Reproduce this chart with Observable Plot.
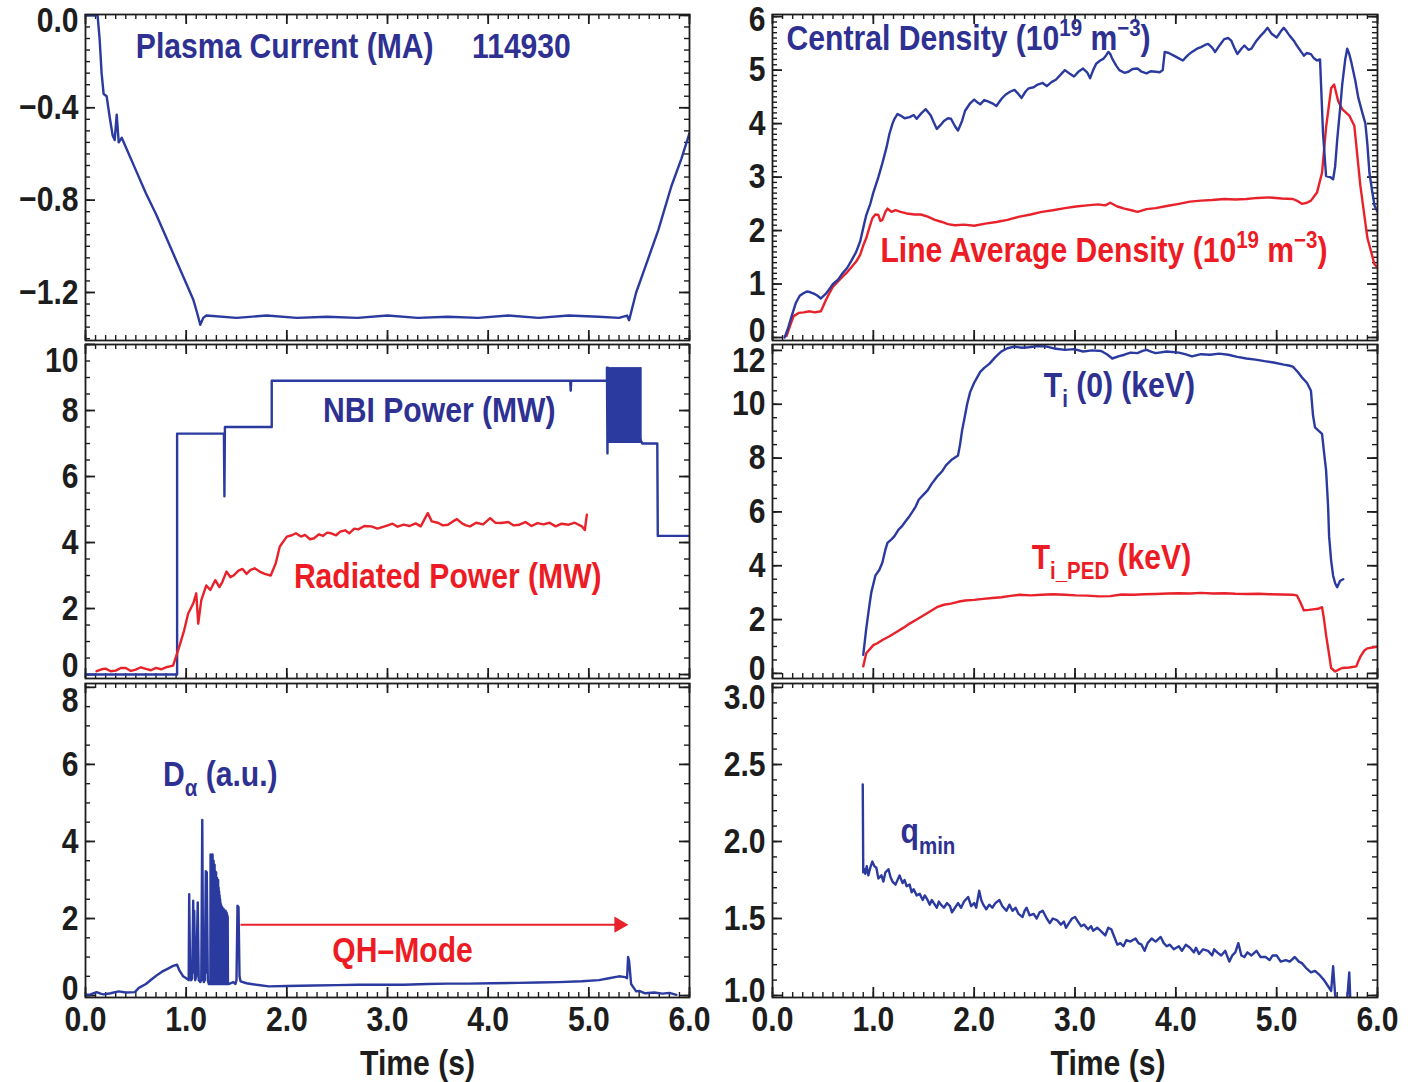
<!DOCTYPE html>
<html><head><meta charset="utf-8">
<script src="https://cdn.jsdelivr.net/npm/d3@7"></script>
<script src="https://cdn.jsdelivr.net/npm/@observablehq/plot@0.6"></script>
<style>
html,body{margin:0;padding:0;background:#fff;}
#fig{position:relative;width:1412px;height:1082px;overflow:hidden;background:#fff;}
#fig svg{position:absolute;overflow:visible;background:transparent;}
</style></head><body><div id="fig"></div>
<script>
// ---------------- DATA (time in s, value) ----------------
const plasmaCurrent = [[0.02,0.0],[0.12,0.0],[0.14,-0.1],[0.16,-0.25],[0.18,-0.34],[0.21,-0.35],[0.24,-0.44],[0.27,-0.52],[0.29,-0.54],[0.31,-0.43],[0.33,-0.55],[0.36,-0.53],[0.40,-0.57],[0.5,-0.67],[0.6,-0.77],[0.7,-0.86],[0.8,-0.96],[0.9,-1.06],[1.0,-1.16],[1.07,-1.23],[1.11,-1.29],[1.14,-1.34],[1.17,-1.31],[1.2,-1.30],[1.5,-1.31],[1.8,-1.30],[2.1,-1.31],[2.4,-1.305],[2.7,-1.31],[3.0,-1.30],[3.3,-1.31],[3.6,-1.305],[3.9,-1.31],[4.2,-1.30],[4.5,-1.31],[4.8,-1.30],[5.1,-1.305],[5.3,-1.31],[5.38,-1.30],[5.40,-1.32],[5.47,-1.20],[5.56,-1.09],[5.69,-0.93],[5.82,-0.74],[5.92,-0.62],[6.0,-0.51]];

const nbiPower = [[0.0,0.0],[0.91,0.0],[0.91,7.3],[1.375,7.3],[1.38,5.4],[1.385,7.5],[1.85,7.5],[1.85,8.9],[4.815,8.9],[4.82,8.6],[4.825,8.9],[5.18,8.9],[5.18,9.3],[5.185,6.7],[5.19,9.3],[5.53,7.0],[5.68,7.0],[5.685,4.2],[6.0,4.2]];
const nbiModulation = [{start:5.19, end:5.53, low:7.0, high:9.3}];

const radiatedPower = [[0.11,0.1],[0.16,0.16],[0.2,0.18],[0.25,0.1],[0.3,0.12],[0.35,0.2],[0.4,0.2],[0.45,0.11],[0.5,0.15],[0.55,0.22],[0.6,0.17],[0.65,0.13],[0.7,0.2],[0.75,0.16],[0.8,0.22],[0.87,0.27],[0.93,0.83],[0.98,1.34],[1.02,1.85],[1.07,2.15],[1.10,2.46],[1.12,1.54],[1.15,2.25],[1.20,2.7],[1.24,2.56],[1.29,2.86],[1.33,2.65],[1.36,2.81],[1.40,3.12],[1.44,2.95],[1.47,3.0],[1.52,3.15],[1.56,3.2],[1.60,3.05],[1.64,3.17],[1.68,3.22],[1.73,3.12],[1.78,3.05],[1.84,3.0],[1.89,3.37],[1.93,3.88],[2.0,4.18],[2.05,4.22],[2.09,4.28],[2.14,4.18],[2.18,4.23],[2.23,4.1],[2.27,4.13],[2.32,4.25],[2.36,4.2],[2.40,4.3],[2.44,4.28],[2.49,4.22],[2.53,4.33],[2.58,4.37],[2.62,4.28],[2.67,4.42],[2.71,4.4],[2.77,4.5],[2.84,4.49],[2.90,4.42],[2.98,4.5],[3.05,4.57],[3.10,4.48],[3.16,4.54],[3.22,4.5],[3.28,4.58],[3.33,4.49],[3.40,4.89],[3.44,4.64],[3.50,4.6],[3.55,4.52],[3.6,4.54],[3.65,4.64],[3.69,4.71],[3.74,4.58],[3.78,4.52],[3.82,4.49],[3.88,4.6],[3.95,4.55],[4.02,4.74],[4.07,4.6],[4.13,4.59],[4.2,4.62],[4.25,4.52],[4.31,4.54],[4.37,4.62],[4.43,4.5],[4.49,4.59],[4.55,4.55],[4.61,4.6],[4.67,4.49],[4.73,4.57],[4.8,4.54],[4.86,4.6],[4.93,4.49],[4.96,4.38],[4.98,4.84]];

const dAlpha = [[0.0,0.02],[0.05,0.03],[0.11,0.09],[0.15,0.05],[0.18,0.03],[0.25,0.06],[0.33,0.11],[0.40,0.08],[0.49,0.09],[0.53,0.2],[0.60,0.3],[0.67,0.45],[0.72,0.55],[0.76,0.62],[0.82,0.7],[0.87,0.77],[0.91,0.8],[0.93,0.67],[0.97,0.5],[1.0,0.45],
[1.025,0.4],[1.03,2.63],[1.04,0.5],[1.05,0.4],[1.06,0.45],[1.07,2.46],[1.075,0.6],[1.08,2.2],[1.09,0.4],[1.10,0.5],[1.115,2.42],[1.125,0.4],[1.14,0.35],[1.15,0.4],[1.16,4.56],[1.168,0.5],[1.175,0.35],[1.185,0.4],[1.195,3.23],[1.20,0.6],[1.205,3.2],[1.215,0.4],[1.225,0.3],[1.235,0.35],
[1.240,0.3],[1.2425,3.66],[1.245,0.4],[1.2475,3.55],[1.250,0.3],[1.2525,3.6],[1.255,0.35],[1.2575,3.45],[1.260,0.3],[1.2625,3.66],[1.265,0.3],[1.2675,3.4],[1.270,0.35],[1.2725,3.5],[1.275,0.3],[1.2775,3.3],[1.280,0.3],[1.2825,3.4],[1.285,0.3],[1.2875,3.23],[1.290,0.3],[1.2925,3.1],[1.295,0.35],[1.2975,3.2],[1.300,0.3],[1.3025,3.0],[1.305,0.3],[1.3075,3.05],[1.310,0.3],[1.3125,2.9],[1.315,0.35],[1.3175,3.0],[1.320,0.3],[1.3225,2.8],[1.325,0.3],[1.3275,2.7],[1.330,0.3],[1.3325,2.6],[1.335,0.35],[1.3375,2.5],[1.340,0.3],[1.3425,2.4],[1.345,0.3],[1.3475,2.35],[1.350,0.3],[1.3525,2.29],[1.355,0.35],[1.3575,2.3],[1.360,0.3],[1.3625,2.25],[1.365,0.3],[1.3675,2.2],[1.370,0.3],[1.3725,2.25],[1.375,0.35],[1.3775,2.2],[1.380,0.3],[1.3825,2.2],[1.385,0.3],[1.3875,2.15],[1.390,0.3],[1.3925,2.2],[1.395,0.35],[1.3975,2.1],[1.400,0.3],[1.4025,2.15],[1.405,0.3],[1.4075,2.1],[1.410,0.3],[1.4125,2.05],[1.415,0.3],[1.42,0.3],[1.47,0.35],[1.49,0.3],[1.50,0.4],[1.51,2.33],[1.52,2.3],[1.53,0.5],[1.54,0.37],[1.6,0.32],[1.7,0.28],[1.82,0.24],[2.0,0.25],[2.27,0.26],[2.5,0.27],[2.71,0.28],[3.0,0.28],[3.16,0.28],[3.4,0.3],[3.6,0.31],[3.8,0.31],[4.04,0.32],[4.3,0.33],[4.49,0.34],[4.7,0.35],[4.93,0.37],[5.1,0.4],[5.2,0.45],[5.3,0.5],[5.36,0.48],[5.38,0.45],[5.39,1.0],[5.40,0.9],[5.42,0.3],[5.47,0.11],[5.5,0.12],[5.56,0.06],[5.65,0.08],[5.73,0.05],[5.8,0.07],[5.87,0.02]];
const qhMode = [{start:1.54, end:5.30, level:1.84}];

const centralDensity = [[0.12,0],[0.15,0.15],[0.19,0.4],[0.23,0.64],[0.27,0.78],[0.30,0.82],[0.34,0.86],[0.37,0.85],[0.41,0.82],[0.44,0.79],[0.48,0.73],[0.53,0.82],[0.57,0.92],[0.60,1.0],[0.65,1.08],[0.69,1.19],[0.74,1.3],[0.78,1.43],[0.83,1.6],[0.87,1.8],[0.90,2.05],[0.93,2.29],[0.97,2.5],[1.00,2.71],[1.05,3.0],[1.09,3.26],[1.13,3.55],[1.16,3.81],[1.19,4.0],[1.21,4.09],[1.24,4.18],[1.27,4.15],[1.31,4.1],[1.36,4.12],[1.40,4.16],[1.43,4.09],[1.48,4.2],[1.52,4.27],[1.57,4.15],[1.60,4.02],[1.63,3.9],[1.67,3.98],[1.70,4.05],[1.74,4.1],[1.77,4.09],[1.81,3.95],[1.84,3.87],[1.88,4.05],[1.91,4.24],[1.96,4.38],[2.00,4.45],[2.03,4.4],[2.06,4.36],[2.10,4.44],[2.13,4.42],[2.18,4.38],[2.22,4.33],[2.27,4.46],[2.31,4.54],[2.36,4.6],[2.40,4.63],[2.44,4.55],[2.47,4.48],[2.51,4.6],[2.54,4.66],[2.59,4.68],[2.63,4.73],[2.68,4.76],[2.72,4.7],[2.77,4.78],[2.81,4.82],[2.86,4.92],[2.90,5.0],[2.95,4.93],[2.99,4.88],[3.04,4.98],[3.08,5.03],[3.12,4.96],[3.15,4.85],[3.18,5.0],[3.21,5.12],[3.25,5.18],[3.28,5.21],[3.31,5.28],[3.33,5.34],[3.35,5.3],[3.37,5.21],[3.41,5.08],[3.44,5.0],[3.49,4.95],[3.53,4.97],[3.57,5.02],[3.62,5.03],[3.66,4.97],[3.71,4.94],[3.75,4.98],[3.80,4.97],[3.84,4.96],[3.87,5.0],[3.89,5.34],[3.93,5.32],[3.98,5.27],[4.03,5.22],[4.07,5.18],[4.12,5.28],[4.16,5.34],[4.21,5.4],[4.25,5.43],[4.29,5.47],[4.32,5.49],[4.36,5.42],[4.39,5.34],[4.44,5.48],[4.48,5.58],[4.52,5.6],[4.55,5.55],[4.58,5.42],[4.61,5.3],[4.65,5.4],[4.68,5.46],[4.72,5.38],[4.75,5.4],[4.80,5.55],[4.84,5.64],[4.88,5.72],[4.91,5.79],[4.95,5.68],[5.00,5.61],[5.04,5.72],[5.07,5.79],[5.10,5.72],[5.13,5.64],[5.17,5.55],[5.20,5.46],[5.24,5.35],[5.27,5.27],[5.30,5.32],[5.34,5.3],[5.37,5.22],[5.40,5.18],[5.43,5.2],[5.46,3.81],[5.49,3.02],[5.53,3.0],[5.56,2.96],[5.58,3.2],[5.60,3.69],[5.63,4.3],[5.65,4.73],[5.68,5.2],[5.70,5.4],[5.72,5.3],[5.74,5.15],[5.78,4.8],[5.81,4.48],[5.85,4.2],[5.88,4.0],[5.90,3.6],[5.92,3.08],[5.95,2.7],[5.97,2.47],[6.0,2.35]];

const lineAvgDensity = [[0.14,0.03],[0.18,0.25],[0.21,0.4],[0.26,0.46],[0.31,0.47],[0.37,0.49],[0.42,0.47],[0.48,0.49],[0.53,0.7],[0.57,0.85],[0.60,0.95],[0.65,1.05],[0.69,1.13],[0.74,1.22],[0.78,1.31],[0.83,1.42],[0.87,1.55],[0.90,1.72],[0.93,1.86],[0.96,2.05],[0.99,2.23],[1.02,2.3],[1.05,2.29],[1.07,2.18],[1.09,2.2],[1.12,2.35],[1.14,2.41],[1.16,2.38],[1.18,2.35],[1.22,2.38],[1.27,2.35],[1.33,2.32],[1.41,2.3],[1.47,2.3],[1.54,2.26],[1.61,2.2],[1.68,2.16],[1.74,2.12],[1.81,2.1],[1.9,2.11],[2.0,2.09],[2.11,2.13],[2.22,2.16],[2.33,2.2],[2.45,2.26],[2.56,2.3],[2.67,2.35],[2.78,2.38],[2.90,2.42],[3.01,2.45],[3.12,2.47],[3.23,2.49],[3.30,2.47],[3.35,2.52],[3.42,2.45],[3.49,2.41],[3.56,2.38],[3.62,2.35],[3.71,2.4],[3.80,2.42],[3.91,2.46],[4.03,2.5],[4.14,2.54],[4.25,2.56],[4.36,2.57],[4.48,2.59],[4.59,2.58],[4.70,2.59],[4.81,2.61],[4.93,2.62],[5.05,2.6],[5.16,2.59],[5.21,2.55],[5.25,2.5],[5.30,2.52],[5.34,2.56],[5.40,2.71],[5.45,3.08],[5.49,3.93],[5.54,4.66],[5.57,4.73],[5.61,4.42],[5.65,4.27],[5.72,4.15],[5.77,3.96],[5.83,2.84],[5.90,1.86],[5.97,1.37],[6.0,1.31]];

const tiCentral = [[0.90,0.69],[0.93,1.67],[0.96,2.5],[0.98,3.01],[1.02,3.63],[1.06,3.85],[1.09,4.12],[1.12,4.6],[1.14,4.85],[1.18,4.98],[1.21,5.1],[1.25,5.34],[1.28,5.45],[1.32,5.65],[1.36,5.85],[1.39,6.02],[1.42,6.2],[1.45,6.45],[1.50,6.65],[1.54,6.81],[1.58,7.05],[1.63,7.3],[1.68,7.5],[1.72,7.73],[1.78,7.95],[1.84,8.1],[1.86,8.5],[1.88,9.02],[1.91,9.6],[1.93,10.0],[1.96,10.45],[2.0,10.8],[2.03,11.0],[2.06,11.2],[2.10,11.35],[2.15,11.5],[2.21,11.75],[2.27,11.96],[2.33,12.08],[2.40,12.14],[2.47,12.1],[2.54,12.12],[2.63,12.16],[2.72,12.14],[2.81,12.06],[2.90,12.02],[2.99,12.05],[3.08,11.96],[3.17,12.0],[3.26,11.98],[3.32,11.85],[3.37,11.7],[3.43,11.78],[3.49,11.84],[3.55,11.92],[3.62,11.9],[3.67,11.98],[3.71,12.02],[3.76,11.95],[3.80,11.9],[3.91,11.96],[4.03,11.92],[4.10,11.85],[4.16,11.78],[4.25,11.86],[4.34,11.84],[4.43,11.88],[4.52,11.84],[4.61,11.76],[4.70,11.7],[4.79,11.66],[4.88,11.6],[4.97,11.55],[5.07,11.47],[5.12,11.44],[5.16,11.4],[5.21,11.2],[5.25,11.0],[5.30,10.8],[5.34,10.5],[5.36,9.6],[5.38,9.14],[5.42,9.0],[5.45,8.9],[5.47,8.2],[5.49,7.55],[5.51,6.2],[5.52,5.1],[5.54,4.2],[5.56,3.63],[5.58,3.35],[5.60,3.2],[5.63,3.44],[5.66,3.5]];

const tiPedestal = [[0.90,0.26],[0.93,0.75],[0.97,0.92],[1.0,1.05],[1.04,1.12],[1.09,1.24],[1.16,1.38],[1.23,1.54],[1.30,1.7],[1.36,1.85],[1.43,2.0],[1.50,2.16],[1.57,2.32],[1.63,2.46],[1.70,2.55],[1.77,2.59],[1.84,2.66],[1.91,2.71],[2.0,2.73],[2.09,2.77],[2.18,2.8],[2.27,2.83],[2.36,2.88],[2.45,2.92],[2.56,2.9],[2.67,2.92],[2.78,2.94],[2.90,2.92],[3.01,2.9],[3.12,2.89],[3.24,2.86],[3.35,2.87],[3.46,2.93],[3.58,2.92],[3.69,2.94],[3.80,2.95],[3.92,2.97],[4.03,2.98],[4.14,2.97],[4.25,2.99],[4.37,2.97],[4.48,2.98],[4.59,2.96],[4.70,2.95],[4.82,2.96],[4.93,2.94],[5.05,2.93],[5.16,2.92],[5.20,2.9],[5.24,2.6],[5.27,2.34],[5.32,2.36],[5.36,2.38],[5.41,2.4],[5.45,2.46],[5.47,2.0],[5.49,1.42],[5.52,0.7],[5.54,0.2],[5.58,0.07],[5.62,0.15],[5.65,0.2],[5.72,0.22],[5.79,0.26],[5.81,0.45],[5.83,0.62],[5.87,0.85],[5.90,0.93],[5.95,0.96],[6.0,0.99]];

const qMin = [[0.895,2.37],[0.90,1.8],[0.91,1.82],[0.92,1.79],[0.935,1.84],[0.95,1.78],[0.97,1.83],[0.99,1.87],[1.01,1.84],[1.03,1.83],[1.05,1.76],[1.08,1.78],[1.10,1.74],[1.12,1.8],[1.15,1.82],[1.17,1.77],[1.19,1.74],[1.22,1.72],[1.26,1.78],[1.29,1.73],[1.31,1.75],[1.33,1.71],[1.36,1.72],[1.38,1.67],[1.40,1.69],[1.43,1.65],[1.46,1.66],[1.49,1.62],[1.51,1.65],[1.53,1.63],[1.56,1.59],[1.58,1.62],[1.60,1.6],[1.63,1.57],[1.65,1.61],[1.67,1.59],[1.70,1.57],[1.73,1.6],[1.76,1.58],[1.78,1.54],[1.80,1.56],[1.84,1.6],[1.87,1.57],[1.90,1.61],[1.94,1.64],[1.97,1.58],[2.0,1.6],[2.02,1.57],[2.05,1.68],[2.07,1.62],[2.09,1.59],[2.12,1.56],[2.15,1.59],[2.18,1.57],[2.21,1.6],[2.25,1.62],[2.28,1.58],[2.32,1.55],[2.35,1.59],[2.38,1.55],[2.41,1.57],[2.44,1.53],[2.48,1.51],[2.50,1.55],[2.52,1.57],[2.55,1.52],[2.59,1.53],[2.62,1.5],[2.65,1.54],[2.68,1.55],[2.72,1.5],[2.75,1.47],[2.78,1.5],[2.82,1.49],[2.86,1.46],[2.89,1.48],[2.91,1.44],[2.94,1.47],[2.97,1.5],[3.0,1.51],[3.03,1.48],[3.06,1.45],[3.09,1.46],[3.13,1.43],[3.16,1.45],[3.18,1.42],[3.22,1.44],[3.27,1.41],[3.30,1.39],[3.33,1.44],[3.36,1.43],[3.39,1.38],[3.42,1.33],[3.45,1.34],[3.48,1.32],[3.51,1.36],[3.55,1.35],[3.60,1.37],[3.63,1.34],[3.66,1.33],[3.69,1.29],[3.72,1.34],[3.76,1.37],[3.80,1.35],[3.85,1.38],[3.88,1.34],[3.91,1.32],[3.94,1.33],[3.98,1.3],[4.03,1.32],[4.06,1.29],[4.10,1.33],[4.14,1.31],[4.18,1.28],[4.20,1.31],[4.23,1.27],[4.27,1.3],[4.32,1.29],[4.36,1.26],[4.38,1.3],[4.41,1.28],[4.45,1.26],[4.49,1.29],[4.53,1.22],[4.56,1.26],[4.59,1.28],[4.62,1.34],[4.65,1.26],[4.68,1.25],[4.71,1.28],[4.75,1.26],[4.80,1.29],[4.84,1.25],[4.89,1.25],[4.93,1.23],[4.96,1.26],[5.0,1.26],[5.04,1.22],[5.09,1.23],[5.13,1.22],[5.18,1.25],[5.22,1.22],[5.25,1.21],[5.29,1.18],[5.34,1.15],[5.38,1.16],[5.43,1.13],[5.47,1.1],[5.51,1.06],[5.54,1.03],[5.56,1.19],[5.58,1.0],[5.60,0.98],[5.70,0.98],[5.72,1.15],[5.73,0.98]];

// tick values
const timeTicks = [0, 1, 2, 3, 4, 5, 6];
const ipTicks = [-1.2, -0.8, -0.4, 0.0];
const nbiTicks = [0, 2, 4, 6, 8, 10];
const dAlphaTicks = [0, 2, 4, 6, 8];
const densityTicks = [0, 1, 2, 3, 4, 5, 6];
const tiTicks = [0, 2, 4, 6, 8, 10, 12];
const qTicks = [1.0, 1.5, 2.0, 2.5, 3.0];

// ---------------- STYLE ----------------
const FONT = '"Liberation Sans",Arial,Helvetica,sans-serif';
const SQUEEZE = 0.86;            // condensed look of the original lettering
const INK = "#1d1d1d";
const BLUE = "#2b3a9e", RED = "#e8222a";
const TBLUE = "#2e3192", TRED = "#ed1c24";
const FS = 35;
const xMinor = d3.range(0, 6.0001, 0.1);

function richify(svg) {
  const NS = "http://www.w3.org/2000/svg";
  svg.querySelectorAll("text").forEach(t => {
    const s = t.textContent;
    if (!/[\^_]\{/.test(s)) return;
    const g = t.closest("[font-size]");
    const fs = g ? parseFloat(g.getAttribute("font-size")) : FS;
    const small = fs * 0.68;
    t.textContent = "";
    const add = (str, size, dy) => {
      const sp = document.createElementNS(NS, "tspan");
      sp.textContent = str;
      if (size) sp.setAttribute("font-size", size);
      if (dy) sp.setAttribute("dy", dy);
      t.appendChild(sp);
    };
    const re = /([\^_])\{([^}]*)\}/g;
    let last = 0, m, shift = 0;
    while ((m = re.exec(s))) {
      if (m.index > last) { add(s.slice(last, m.index), null, -shift); shift = 0; }
      const d = m[1] === "^" ? -0.4 * fs : 0.3 * fs;
      add(m[2], small, d - shift); shift = d;
      last = re.lastIndex;
    }
    if (last < s.length) add(s.slice(last), null, -shift);
  });
}

function squeeze(svg) {
  svg.querySelectorAll("text").forEach(t => {
    const w = t.getComputedTextLength();
    if (w > 0) {
      t.setAttribute("textLength", (w * SQUEEZE).toFixed(2));
      t.setAttribute("lengthAdjust", "spacingAndGlyphs");
    }
  });
}

function panel(o) {
  const fw = o.width - o.mL - o.mR, fh = o.height - o.mT - o.mB;
  const [y0, y1] = o.yDomain;
  const yMinor = d3.range(Math.ceil(y0 / o.yStep) * o.yStep, y1 + 1e-9, o.yStep);
  const tickStyle = {stroke: INK, strokeWidth: 1.4};
  const lab = {fontFamily: FONT, fontWeight: "bold", fontSize: FS, fill: INK};
  const yl = {y: d => d, text: o.yFmt, frameAnchor: "left", textAnchor: "end", dx: -7, ...lab};
  const marks = [
    Plot.tickY(yMinor, {y: d => d, ...tickStyle, insetRight: fw - 5}),
    Plot.tickY(yMinor, {y: d => d, ...tickStyle, insetLeft: fw - 5}),
    Plot.tickY(o.yTicks, {y: d => d, ...tickStyle, strokeWidth: 1.8, insetRight: fw - 10}),
    Plot.tickY(o.yTicks, {y: d => d, ...tickStyle, strokeWidth: 1.8, insetLeft: fw - 10}),
    Plot.tickX(xMinor, {x: d => d, ...tickStyle, insetTop: fh - 5}),
    Plot.tickX(xMinor, {x: d => d, ...tickStyle, insetBottom: fh - 5}),
    Plot.tickX(timeTicks, {x: d => d, ...tickStyle, strokeWidth: 1.8, insetTop: fh - 10}),
    Plot.tickX(timeTicks, {x: d => d, ...tickStyle, strokeWidth: 1.8, insetBottom: fh - 10}),
    ...o.marks,
    Plot.frame({stroke: INK, strokeWidth: 1.8}),
    Plot.text(o.yTicks.slice(0, 1), {...yl, dy: o.botDy}),
    Plot.text(o.yTicks.slice(1, -1), yl),
    Plot.text(o.yTicks.slice(-1), {...yl, dy: o.topDy})
  ];
  if (o.xLabels) {
    marks.push(Plot.text(timeTicks, {x: d => d, text: d => d.toFixed(1), frameAnchor: "bottom", lineAnchor: "top", dy: 9, ...lab}));
    marks.push(Plot.text(["Time (s)"], {frameAnchor: "bottom", lineAnchor: "middle", dy: 66, dx: o.titleDx, ...lab}));
  }
  const svg = Plot.plot({
    width: o.width, height: o.height,
    marginLeft: o.mL, marginRight: o.mR, marginTop: o.mT, marginBottom: o.mB,
    x: {domain: [0, 6], axis: null},
    y: {domain: o.yDomain, axis: null},
    style: {background: "transparent", overflow: "visible"},
    marks
  });
  svg.style.left = o.left + "px";
  svg.style.top = o.top + "px";
  svg.style.maxWidth = "none";
  richify(svg);
  document.getElementById("fig").appendChild(svg);
  squeeze(svg);
}

const L = {left: 0, width: 700, mL: 85, mR: 11};
const R = {left: 700, width: 712, mL: 72, mR: 35};
const ROW1 = {top: 0, height: 345, mT: 14, mB: 5};
const ROW2 = {top: 340, height: 345, mT: 4, mB: 7};
const ROW3 = {top: 680, height: 402, mT: 3, mB: 85};
const ann = (txt, x, y, fill, extra = {}) => Plot.text([txt], {x, y, text: d => d, textAnchor: "start", lineAnchor: "middle", fill, fontFamily: FONT, fontWeight: "bold", fontSize: FS, ...extra});
const line = (data, stroke) => Plot.line(data, {x: d => d[0], y: d => d[1], stroke, strokeWidth: 2.4, clip: true});
const f1 = d3.format(".1f"), f0 = d3.format("d");

// Plasma current
panel({...L, ...ROW1, yDomain: [-1.408, 0.004], yTicks: ipTicks, yStep: 0.05, yFmt: f1, botDy: 0, topDy: 5,
  marks: [line(plasmaCurrent, BLUE), ann("Plasma Current (MA)", 0.5, -0.134, TBLUE), ann("114930", 3.84, -0.134, TBLUE)]});

// NBI / radiated power
panel({...L, ...ROW2, yDomain: [-0.12, 10], yTicks: nbiTicks, yStep: 0.5, yFmt: f0, botDy: -9, topDy: 16,
  marks: [
    Plot.rect(nbiModulation, {x1: "start", x2: "end", y1: "low", y2: "high", fill: BLUE}),
    line(nbiPower, BLUE), line(radiatedPower, RED),
    ann("NBI Power (MW)", 2.36, 8.0, TBLUE), ann("Radiated Power (MW)", 2.07, 2.97, TRED)]});

// D-alpha
panel({...L, ...ROW3, yDomain: [-0.05, 8.1], yTicks: dAlphaTicks, yStep: 0.5, yFmt: f0, botDy: -7, topDy: 13, xLabels: true, titleDx: 30,
  marks: [
    line(dAlpha, BLUE),
    Plot.link(qhMode, {x1: "start", x2: "end", y1: "level", y2: "level", stroke: RED, strokeWidth: 2}),
    Plot.dot(qhMode, {x: "end", y: "level", symbol: "triangle", rotate: 90, r: 6, fill: RED, stroke: "none"}),
    ann("D_{α} (a.u.)", 0.77, 5.74, TBLUE),
    ann("QH–Mode", 3.15, 1.17, TRED, {textAnchor: "middle"})]});

// Densities
panel({...R, ...ROW1, yDomain: [-0.056, 6.04], yTicks: densityTicks, yStep: 0.1, yFmt: f0, botDy: -7, topDy: 3,
  marks: [line(lineAvgDensity, RED), line(centralDensity, BLUE),
    ann("Central Density (10^{19} m^{−3})", 0.14, 5.59, TBLUE),
    ann("Line Average Density (10^{19} m^{−3})", 1.07, 1.63, TRED)]});

// Ion temperature
panel({...R, ...ROW2, yDomain: [-0.19, 12.22], yTicks: tiTicks, yStep: 0.5, yFmt: f0, botDy: -5, topDy: 10,
  marks: [line(tiPedestal, RED), line(tiCentral, BLUE),
    ann("T_{i} (0) (keV)", 2.69, 10.7, TBLUE),
    ann("T_{i_PED} (keV)", 2.57, 4.3, TRED)]});

// q_min
panel({...R, ...ROW3, yDomain: [0.987, 3.026], yTicks: qTicks, yStep: 0.1, yFmt: f1, botDy: -5, topDy: 10, xLabels: true, titleDx: 33,
  marks: [line(qMin, BLUE), ann("q_{min}", 1.27, 2.06, TBLUE)]});
</script></body></html>
